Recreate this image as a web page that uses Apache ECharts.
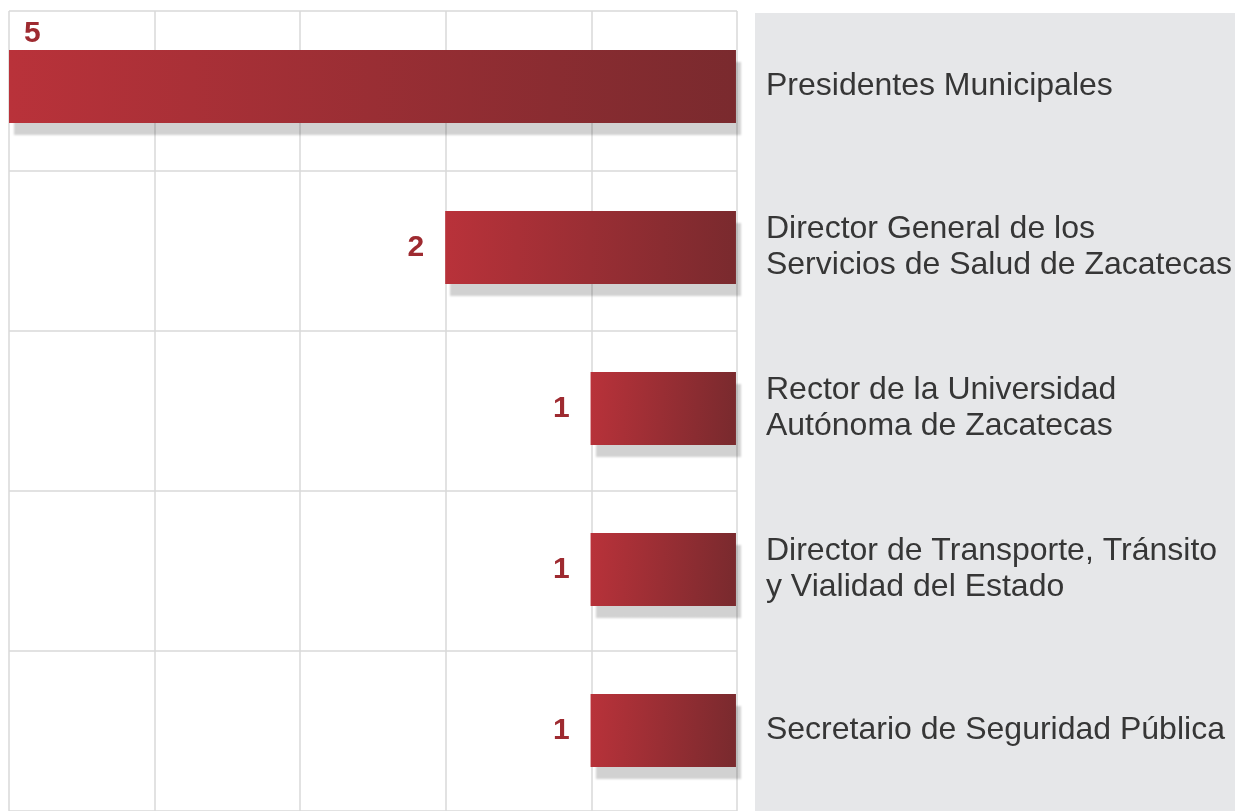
<!DOCTYPE html>
<html>
<head>
<meta charset="utf-8">
<style>
html,body{margin:0;padding:0;background:#fff;}
#chart{width:1235px;height:811px;}
</style>
<script src="https://cdn.jsdelivr.net/npm/echarts@6/dist/echarts.min.js"></script>
</head>
<body>
<div id="chart"></div>
<script>
// ---- data ----
const categories = [
  'Presidentes Municipales',
  'Director General de los\nServicios de Salud de Zacatecas',
  'Rector de la Universidad\nAutónoma de Zacatecas',
  'Director de Transporte, Tránsito\ny Vialidad del Estado',
  'Secretario de Seguridad Pública'
];
const values = [5, 2, 1, 1, 1];
const xMin = 0;
const xMax = 5;
const xInterval = 1;

// ---- chart ----
const font = 'Liberation Sans';
const chart = echarts.init(document.getElementById('chart'), null, {renderer: 'canvas'});

const barData = values.map(v => v === xMax
  ? {value: v, label: {position: [15, -31]}}
  : v);

const gridLeft = 9, gridRight = 498;

chart.setOption({
  backgroundColor: '#ffffff',
  animation: false,
  textStyle: {fontFamily: font},
  graphic: [{
    type: 'rect',
    z: -10,
    shape: {x: 755, y: 13, width: 480, height: 798},
    style: {fill: '#e6e7e9'}
  }],
  grid: [
    {left: gridLeft, right: gridRight, top: 11, height: 806, containLabel: false},
    {left: gridLeft, right: gridRight, top: 6, height: 806, containLabel: false}
  ],
  xAxis: [
    {
      gridIndex: 0, type: 'value', inverse: true, min: xMin, max: xMax, interval: xInterval,
      axisLine: {show: false}, axisTick: {show: false}, axisLabel: {show: false},
      splitLine: {show: true, lineStyle: {color: '#d9d9d9', width: 1.5}}
    },
    {
      gridIndex: 1, type: 'value', inverse: true, min: xMin, max: xMax, interval: xInterval,
      show: false
    }
  ],
  yAxis: [
    {
      gridIndex: 0, type: 'category', inverse: true, data: categories,
      axisLine: {show: false}, axisTick: {show: false}, axisLabel: {show: false},
      splitLine: {show: true, lineStyle: {color: '#d9d9d9', width: 1.5}}
    },
    {
      gridIndex: 1, type: 'category', inverse: true, data: categories, position: 'right',
      axisLine: {show: false}, axisTick: {show: false}, splitLine: {show: false},
      axisLabel: {
        show: true, margin: 30, align: 'left', fontSize: 32, lineHeight: 36,
        color: '#363636', fontFamily: font
      }
    }
  ],
  series: [{
    type: 'bar',
    xAxisIndex: 1, yAxisIndex: 1,
    data: barData,
    barWidth: 73,
    itemStyle: {
      color: new echarts.graphic.LinearGradient(0, 0, 1, 0.15, [
        {offset: 0, color: '#b9323a'},
        {offset: 1, color: '#7a2a2e'}
      ]),
      shadowColor: 'rgba(0,0,0,0.18)',
      shadowBlur: 2,
      shadowOffsetX: 5,
      shadowOffsetY: 12
    },
    label: {
      show: true, position: 'left', distance: 21,
      fontSize: 30, fontWeight: 'bold', color: '#9e2a30', fontFamily: font
    }
  }]
});
</script>
</body>
</html>
